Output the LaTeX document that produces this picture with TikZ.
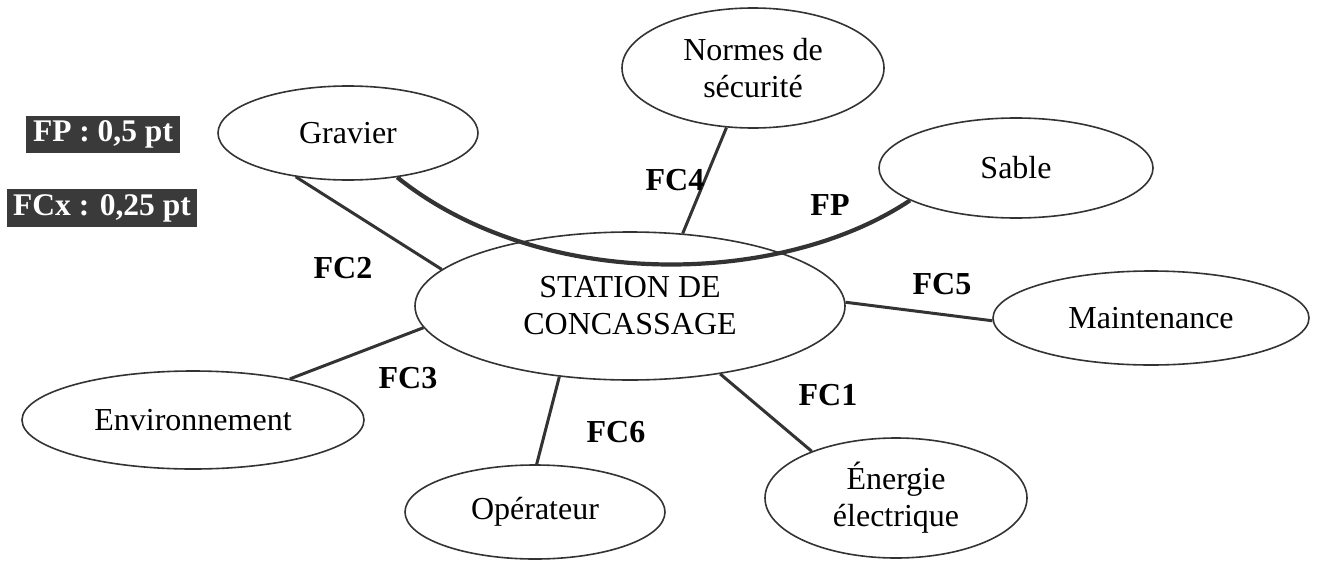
\documentclass[tikz,border=0pt]{standalone}
\usepackage{fontspec}
\setmainfont{Liberation Serif}
\usetikzlibrary{shapes.geometric}
\definecolor{edgegray}{HTML}{333333}
\definecolor{boxgray}{HTML}{3A3A3A}
\tikzset{
  bub/.style={ellipse, draw=edgegray, line width=1.6pt, inner sep=0pt, align=center,
    font=\fontsize{32}{37}\selectfont, text=black},
  fcline/.style={draw=edgegray, line width=3pt},
  fpline/.style={draw=edgegray, line width=4.2pt},
  lbl/.style={font=\fontsize{32}{37}\selectfont\bfseries, text=black, inner sep=0pt},
  legend/.style={fill=boxgray, text=white, inner sep=0pt, font=\fontsize{31.5}{36}\selectfont\bfseries}
}
\begin{document}
\begin{tikzpicture}[x=1pt,y=-1pt]
\useasboundingbox (0,0) rectangle (1321,562);
% legend
\node[legend, minimum width=154pt, minimum height=37pt] (lfp) at (103,134.5) {FP : 0,5 pt};
\node[legend, minimum width=190pt, minimum height=38pt] (lfc) at (102,208) {FCx : 0,25 pt};
% ellipses
\node[bub, minimum width=430pt, minimum height=148pt] (st) at (630,306) {STATION DE\\CONCASSAGE};
\node[bub, minimum width=260pt, minimum height=94pt] (gr) at (348,133) {Gravier};
\node[bub, minimum width=262pt, minimum height=120pt] (no) at (753,68) {Normes de\\sécurité};
\node[bub, minimum width=274pt, minimum height=100pt] (sa) at (1016,168) {Sable};
\node[bub, minimum width=316pt, minimum height=94pt] (ma) at (1151,318) {Maintenance};
\node[bub, minimum width=342pt, minimum height=98pt] (en) at (193,420) {Environnement};
\node[bub, minimum width=260pt, minimum height=94pt] (op) at (535,512) {Opérateur};
\node[bub, minimum width=262pt, minimum height=120pt] (el) at (896,498) {Énergie\\électrique};
% connectors
\draw[fcline] (gr.220) -- (st.169);
\draw[fcline] (no.246) -- (st.54);
\draw[fcline] (st.1) -- (ma.181);
\draw[fcline] (st.323) -- (el.151);
\draw[fcline] (st.225) -- (op.88);
\draw[fcline] (st.186) -- (en.23);
\draw[fpline] (gr.318) .. controls (540,292) and (780,287) .. (sa.197);
% labels
\node[lbl] (l2) at (343,268) {FC2};
\node[lbl] (l4) at (675,180) {FC4};
\node[lbl] (lp) at (830,205) {FP};
\node[lbl] (l5) at (942,284) {FC5};
\node[lbl] (l3) at (408,378) {FC3};
\node[lbl] (l1) at (828,395) {FC1};
\node[lbl] (l6) at (616,432) {FC6};
\end{tikzpicture}
\end{document}
